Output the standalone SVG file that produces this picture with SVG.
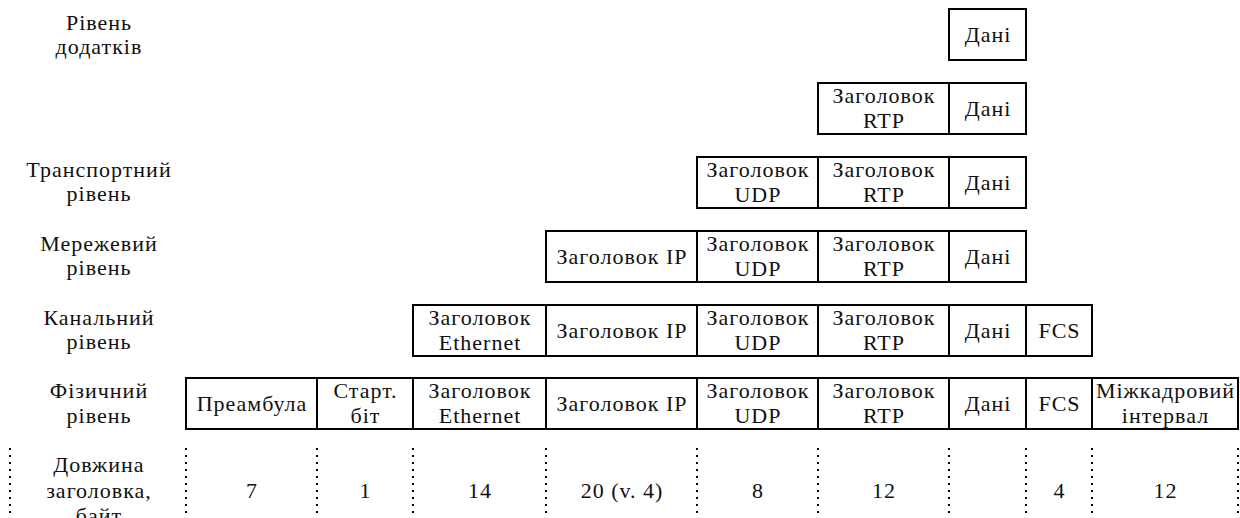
<svg xmlns="http://www.w3.org/2000/svg" width="1240" height="518" viewBox="0 0 1240 518">
<style>
rect.b{fill:#fff;stroke:#000;stroke-width:2}
text{font-family:'Liberation Serif','DejaVu Serif',serif;font-size:22px;letter-spacing:1px;fill:#111;text-anchor:middle}
line.d{stroke:#000;stroke-width:2;stroke-dasharray:2 5}
</style>
<rect width="1240" height="518" fill="#fff"/>
<g id="labels">
<text x="99" y="30">Рівень</text><text x="99" y="54">додатків</text>
<text x="99" y="177">Транспортний</text><text x="99" y="201">рівень</text>
<text x="99" y="251">Мережевий</text><text x="99" y="275">рівень</text>
<text x="99" y="325">Канальний</text><text x="99" y="349">рівень</text>
<text x="99" y="398">Фізичний</text><text x="99" y="423">рівень</text>
<text x="99" y="472">Довжина</text><text x="99" y="498">заголовка,</text><text x="99" y="523">байт</text>
</g>
<g id="row1">
<rect class="b" x="949" y="9" width="77" height="51"/><text x="988" y="42">Дані</text>
</g>
<g id="row2">
<rect class="b" x="818" y="83" width="131" height="51"/><text x="884" y="103">Заголовок</text><text x="884" y="128">RTP</text>
<rect class="b" x="949" y="83" width="77" height="51"/><text x="988" y="116">Дані</text>
</g>
<g id="row3">
<rect class="b" x="697" y="157" width="121" height="51"/><text x="758" y="177">Заголовок</text><text x="758" y="202">UDP</text>
<rect class="b" x="818" y="157" width="131" height="51"/><text x="884" y="177">Заголовок</text><text x="884" y="202">RTP</text>
<rect class="b" x="949" y="157" width="77" height="51"/><text x="988" y="190">Дані</text>
</g>
<g id="row4">
<rect class="b" x="546" y="231" width="151" height="51"/><text x="622" y="264">Заголовок IP</text>
<rect class="b" x="697" y="231" width="121" height="51"/><text x="758" y="251">Заголовок</text><text x="758" y="276">UDP</text>
<rect class="b" x="818" y="231" width="131" height="51"/><text x="884" y="251">Заголовок</text><text x="884" y="276">RTP</text>
<rect class="b" x="949" y="231" width="77" height="51"/><text x="988" y="264">Дані</text>
</g>
<g id="row5">
<rect class="b" x="413" y="305" width="133" height="51"/><text x="480" y="325">Заголовок</text><text x="480" y="350">Ethernet</text>
<rect class="b" x="546" y="305" width="151" height="51"/><text x="622" y="338">Заголовок IP</text>
<rect class="b" x="697" y="305" width="121" height="51"/><text x="758" y="325">Заголовок</text><text x="758" y="350">UDP</text>
<rect class="b" x="818" y="305" width="131" height="51"/><text x="884" y="325">Заголовок</text><text x="884" y="350">RTP</text>
<rect class="b" x="949" y="305" width="77" height="51"/><text x="988" y="338">Дані</text>
<rect class="b" x="1026" y="305" width="66" height="51"/><text x="1059.5" y="338">FCS</text>
</g>
<g id="row6">
<rect class="b" x="186" y="378" width="131" height="51"/><text x="252" y="411">Преамбула</text>
<rect class="b" x="317" y="378" width="96" height="51"/><text x="365.5" y="398">Старт.</text><text x="365.5" y="423">біт</text>
<rect class="b" x="413" y="378" width="133" height="51"/><text x="480" y="398">Заголовок</text><text x="480" y="423">Ethernet</text>
<rect class="b" x="546" y="378" width="151" height="51"/><text x="622" y="411">Заголовок IP</text>
<rect class="b" x="697" y="378" width="121" height="51"/><text x="758" y="398">Заголовок</text><text x="758" y="423">UDP</text>
<rect class="b" x="818" y="378" width="131" height="51"/><text x="884" y="398">Заголовок</text><text x="884" y="423">RTP</text>
<rect class="b" x="949" y="378" width="77" height="51"/><text x="988" y="411">Дані</text>
<rect class="b" x="1026" y="378" width="66" height="51"/><text x="1059.5" y="411">FCS</text>
<rect class="b" x="1092" y="378" width="146" height="51"/><text x="1165.5" y="398">Міжкадровий</text><text x="1165.5" y="423">інтервал</text>
</g>
<g id="connectors">
<line class="d" x1="10" y1="448" x2="10" y2="518"/>
<line class="d" x1="186" y1="448" x2="186" y2="518"/>
<line class="d" x1="317" y1="448" x2="317" y2="518"/>
<line class="d" x1="413" y1="448" x2="413" y2="518"/>
<line class="d" x1="546" y1="448" x2="546" y2="518"/>
<line class="d" x1="697" y1="448" x2="697" y2="518"/>
<line class="d" x1="818" y1="448" x2="818" y2="518"/>
<line class="d" x1="949" y1="448" x2="949" y2="518"/>
<line class="d" x1="1026" y1="448" x2="1026" y2="518"/>
<line class="d" x1="1092" y1="448" x2="1092" y2="518"/>
<line class="d" x1="1238" y1="448" x2="1238" y2="518"/>
</g>
<g id="sizes">
<text x="252" y="498">7</text>
<text x="365.5" y="498">1</text>
<text x="480" y="498">14</text>
<text x="622" y="498">20 (v. 4)</text>
<text x="758" y="498">8</text>
<text x="884" y="498">12</text>
<text x="1059.5" y="498">4</text>
<text x="1165.5" y="498">12</text>
</g>
</svg>
